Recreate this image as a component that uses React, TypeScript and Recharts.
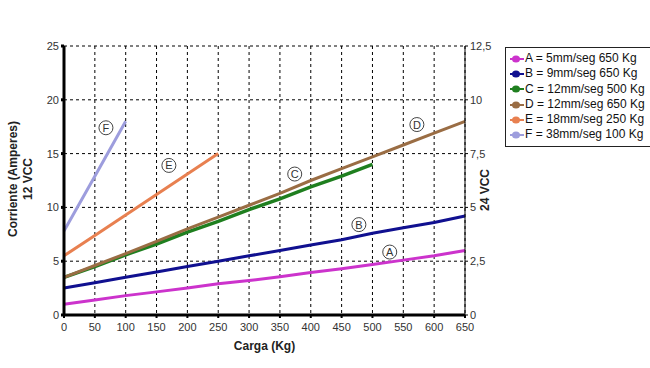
import React from "react";
import {
  LineChart,
  Line,
  XAxis,
  YAxis,
  CartesianGrid,
  ReferenceDot,
} from "recharts";

const cargas = [0, 50, 100, 150, 200, 250, 300, 350, 400, 450, 500, 550, 600, 650];

const serieA = [1.0, 1.4, 1.8, 2.15, 2.5, 2.9, 3.2, 3.55, 3.95, 4.3, 4.7, 5.1, 5.5, 6.0];
const serieB = [2.5, 3.0, 3.5, 4.0, 4.5, 5.0, 5.5, 6.0, 6.5, 7.0, 7.6, 8.1, 8.6, 9.2];
const serieC = [3.5, 4.5, 5.6, 6.6, 7.7, 8.7, 9.8, 10.8, 11.9, 12.9, 14.0];
const serieD = [3.5, 4.6, 5.7, 6.85, 8.0, 9.1, 10.2, 11.3, 12.5, 13.6, 14.7, 15.8, 16.9, 18.0];
const serieE = [5.5, 7.4, 9.3, 11.2, 13.1, 15.0];
const serieF = [7.8, 12.9, 18.0];

const nombres = [
  "A = 5mm/seg 650 Kg",
  "B = 9mm/seg 650 Kg",
  "C = 12mm/seg 500 Kg",
  "D = 12mm/seg 650 Kg",
  "E = 18mm/seg 250 Kg",
  "F = 38mm/seg 100 Kg",
];
const colores = ["#cc33cc", "#101090", "#1f7f1f", "#9a6d44", "#e88050", "#9d9ddd"];
const claves = ["a", "b", "c", "d", "e", "f"];

const ticksX = cargas;
const ticksIzq = [0, 5, 10, 15, 20, 25];
const ticksDer = [0, 2.5, 5, 7.5, 10, 12.5];

// circled letter labels: [carga, corriente, letra]
const etiquetas: [number, number, string][] = [
  [528, 5.85, "A"],
  [478, 8.4, "B"],
  [374, 13.1, "C"],
  [572, 17.7, "D"],
  [170, 13.9, "E"],
  [68, 17.4, "F"],
];

const series = [serieA, serieB, serieC, serieD, serieE, serieF];
const data = cargas.map((kg, i) => {
  const row: Record<string, number | undefined> = { kg };
  series.forEach((s, j) => {
    row[claves[j]] = s[i];
  });
  return row;
});

const font = "Arial, 'Liberation Sans', sans-serif";
const tick = { fill: "#333", fontSize: 11, fontFamily: font };

function Circulo(props: any) {
  const { cx, cy, letra } = props;
  return (
    <g>
      <circle cx={cx} cy={cy} r={7} fill="#fff" stroke="#444" strokeWidth={1} />
      <text
        x={cx}
        y={cy + 4}
        textAnchor="middle"
        fontSize={11}
        fontFamily={font}
        fill="#333"
      >
        {letra}
      </text>
    </g>
  );
}

function Leyenda() {
  return (
    <div
      style={{
        position: "absolute",
        left: 505,
        top: 47,
        border: "1px solid #222",
        background: "#fff",
        padding: "3px 5px 3px 4px",
        fontFamily: font,
        fontSize: 12,
        color: "#111",
        lineHeight: "15.3px",
      }}
    >
      {nombres.map((n, i) => (
        <div key={n} style={{ display: "flex", alignItems: "center", whiteSpace: "nowrap" }}>
          <svg width={14} height={10} style={{ marginRight: 1 }}>
            <line x1={0} y1={5} x2={14} y2={5} stroke={colores[i]} strokeWidth={2} />
            <ellipse cx={6} cy={5} rx={4} ry={3.5} fill={colores[i]} />
          </svg>
          {n}
        </div>
      ))}
    </div>
  );
}

export default function App() {
  return (
    <div style={{ position: "absolute", left: 0, top: 0, width: 650, height: 368, background: "#fff" }}>
      <LineChart
        width={650}
        height={368}
        data={data}
        margin={{ top: 46, right: 145, bottom: 22, left: 0 }}
      >
        <CartesianGrid
          yAxisId="izq"
          stroke="#000"
          strokeDasharray="3 3"
          strokeWidth={1}
          verticalValues={ticksX}
          horizontalValues={ticksIzq}
        />
        <XAxis
          dataKey="kg"
          type="number"
          domain={[0, 650]}
          ticks={ticksX}
          interval={0}
          tick={tick}
          tickSize={3}
          tickMargin={5}
          axisLine={{ stroke: "#000", strokeWidth: 3 }}
          tickLine={{ stroke: "#000", strokeWidth: 2 }}
          height={31}
          label={{
            value: "Carga (Kg)",
            position: "insideBottom",
            offset: -4,
            style: { fill: "#222", fontSize: 12, fontWeight: "bold", fontFamily: font },
          }}
        />
        <YAxis
          yAxisId="izq"
          domain={[0, 25]}
          ticks={ticksIzq}
          interval={0}
          width={64}
          tick={tick}
          tickSize={3}
          axisLine={{ stroke: "#000", strokeWidth: 3 }}
          tickLine={{ stroke: "#000", strokeWidth: 3 }}
        />
        <YAxis
          yAxisId="der"
          orientation="right"
          domain={[0, 12.5]}
          ticks={ticksDer}
          interval={0}
          width={40}
          tick={tick}
          tickSize={3}
          allowDataOverflow
          tickFormatter={(v: number) => String(v).replace(".", ",")}
          axisLine={{ stroke: "#000", strokeWidth: 1 }}
          tickLine={{ stroke: "#000", strokeWidth: 1 }}
        />
        {claves.map((k, i) => (
          <Line
            key={k}
            yAxisId="izq"
            dataKey={k}
            name={nombres[i]}
            stroke={colores[i]}
            strokeWidth={k === "c" ? 3.5 : 3}
            dot={false}
            activeDot={false}
            connectNulls={false}
            isAnimationActive={false}
          />
        ))}
        {etiquetas.map(([x, y, l]) => (
          <ReferenceDot
            key={l}
            yAxisId="izq"
            x={x}
            y={y}
            r={7}
            shape={(p: any) => <Circulo {...p} letra={l} />}
          />
        ))}
      </LineChart>
      <Leyenda />
      <div
        style={{
          position: "absolute",
          left: 21,
          top: 179,
          transform: "translate(-50%, -50%) rotate(-90deg)",
          fontFamily: font,
          fontSize: 12,
          fontWeight: "bold",
          color: "#222",
          textAlign: "center",
          whiteSpace: "nowrap",
          lineHeight: "15px",
        }}
      >
        Corriente (Amperes)
        <br />
        12 VCC
      </div>
      <div
        style={{
          position: "absolute",
          left: 485,
          top: 190,
          transform: "translate(-50%, -50%) rotate(-90deg)",
          fontFamily: font,
          fontSize: 12,
          fontWeight: "bold",
          color: "#222",
          whiteSpace: "nowrap",
        }}
      >
        24 VCC
      </div>
    </div>
  );
}
